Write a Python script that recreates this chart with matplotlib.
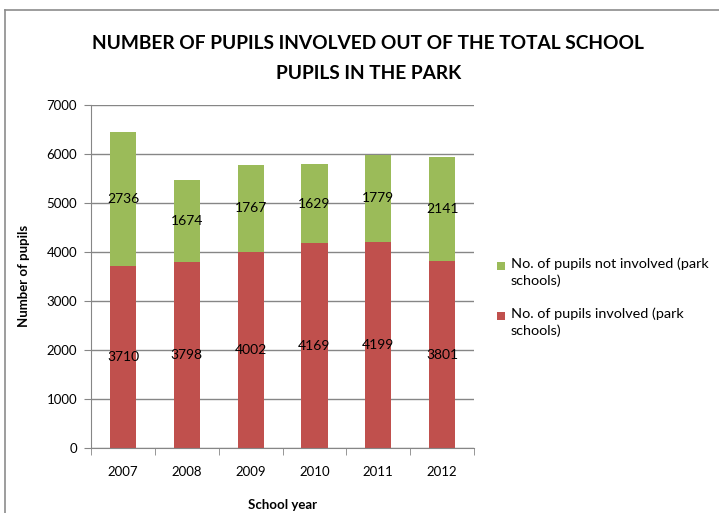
"""Stacked bar chart of pupils involved vs not involved in park schools."""

import matplotlib

matplotlib.use("Agg")

import matplotlib.pyplot as plt
import numpy as np
from matplotlib.lines import Line2D
from matplotlib.patches import Rectangle

years = ["2007", "2008", "2009", "2010", "2011", "2012"]
involved = [3710, 3798, 4002, 4169, 4199, 3801]
not_involved = [2736, 1674, 1767, 1629, 1779, 2141]
legend_labels = [
    "No. of pupils not involved (park\nschools)",
    "No. of pupils involved (park\nschools)",
]

RED = "#C0504D"
GREEN = "#9BBB59"
GRID = "#868686"
FONT = ["Lato", "DejaVu Sans"]

plt.rcParams["font.family"] = FONT

fig = plt.figure(figsize=(7.19, 5.13), dpi=100)
ax = fig.add_axes([0.1266, 0.1273, 0.5327, 0.6686])

x = np.arange(len(years))
width = 0.41
ax.bar(x, involved, width, color=RED, zorder=2)
ax.bar(x, not_involved, width, bottom=involved, color=GREEN, zorder=2)

for xi, low, high in zip(x, involved, not_involved):
    ax.text(xi, low / 2, str(low), ha="center", va="center", fontsize=10, color="black", zorder=3)
    ax.text(xi, low + high / 2, str(high), ha="center", va="center", fontsize=10, color="black", zorder=3)

ax.set_xlim(-0.5, len(years) - 0.5)
ax.set_ylim(0, 7000)
ax.set_yticks(range(0, 7001, 1000))
ax.yaxis.grid(True, color=GRID, linewidth=1.0, zorder=0)
ax.set_axisbelow(True)

ax.set_xticks(x)
ax.set_xticklabels(years, fontsize=9.5)
ax.set_xticks(np.arange(-0.5, len(years)), minor=True)
ax.tick_params(axis="x", which="major", length=0, pad=13)
ax.tick_params(axis="x", which="minor", length=5, color=GRID, direction="out")
ax.tick_params(axis="y", length=5, color=GRID, labelsize=9.5, pad=5)

for side in ("top", "right"):
    ax.spines[side].set_visible(False)
ax.spines["left"].set_color(GRID)
ax.spines["bottom"].set_color(GRID)

ax.set_xlabel("School year", fontsize=9.5, fontweight="bold", labelpad=15)
ax.set_ylabel("Number of pupils", fontsize=9.5, fontweight="bold", labelpad=12)

fig.text(
    0.512, 0.886,
    "NUMBER OF PUPILS INVOLVED OUT OF THE TOTAL SCHOOL\nPUPILS IN THE PARK",
    ha="center", va="center", fontsize=13.8, fontweight="bold", linespacing=1.95,
)

# manual legend, square aligned with first text line like Excel
fig_w, fig_h = 719, 513
for label, color, top_px in zip(legend_labels, [GREEN, RED], [266, 316]):
    fig.patches.append(Rectangle(
        (497 / fig_w, 1 - (top_px + 4) / fig_h), 8 / fig_w, 8 / fig_h,
        transform=fig.transFigure, facecolor=color, edgecolor="none",
    ))
    fig.text(511 / fig_w, 1 - (top_px - 9) / fig_h, label, ha="left", va="top",
             fontsize=10.4, linespacing=1.5)

# chart frame (left and top edges visible in the crop)
fig.lines.append(Line2D([5 / fig_w, 5 / fig_w], [0, 1 - 10 / fig_h], transform=fig.transFigure,
                        color="#8c8c8c", linewidth=1.2))
fig.lines.append(Line2D([5 / fig_w, 1], [1 - 10 / fig_h, 1 - 10 / fig_h], transform=fig.transFigure,
                        color="#8c8c8c", linewidth=1.2))

fig.savefig("out.png", dpi=100)
